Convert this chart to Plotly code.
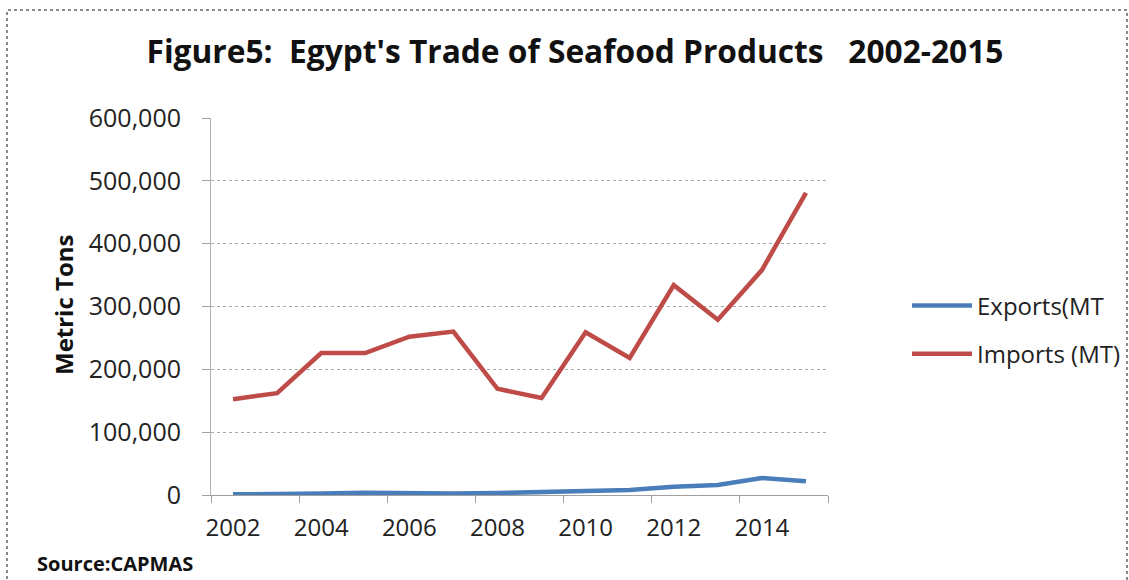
import plotly.graph_objects as go

years = [2002, 2003, 2004, 2005, 2006, 2007, 2008, 2009, 2010, 2011, 2012, 2013, 2014, 2015]
exports_mt = [1000, 1000, 2500, 3500, 2500, 2500, 3000, 5000, 7500, 8000, 13000, 16000, 27000, 22000]
imports_mt = [152500, 162000, 226000, 226000, 252000, 260000, 169000, 154500, 259000, 218000, 334000, 279000, 358000, 481000]
x_tick_years = [2002, 2004, 2006, 2008, 2010, 2012, 2014]
y_ticks = [0, 100000, 200000, 300000, 400000, 500000, 600000]

FONT = "Open Sans"
L, R, T, B = 211, 1129 - 828, 118, 580 - 495
PW, PH = 1129 - L - R, 580 - T - B

def px_x(x):
    return (x - L) / PW

def px_y(y):
    return (580 - B - y) / PH

fig = go.Figure()
fig.add_trace(go.Scatter(x=years, y=exports_mt, mode="lines", name="Exports(MT",
                         line=dict(color="#4a7ebb", width=4.5), legendgroup="a"))
fig.add_trace(go.Scatter(x=years, y=imports_mt, mode="lines", name="Imports (MT)",
                         line=dict(color="#be4b48", width=4.5), legendgroup="b"))

fig.update_layout(
    width=1129, height=580,
    margin=dict(l=L, r=R, t=T, b=B, autoexpand=False),
    paper_bgcolor="white", plot_bgcolor="white",
    font=dict(family=FONT, color="#222222"),
    title=dict(text="<b>Figure5:  Egypt's Trade of Seafood Products   2002-2015</b>",
               x=575 / 1129, xanchor="center", y=1 - 52 / 580, yanchor="middle",
               font=dict(size=31.7, color="#111111", family=FONT)),
    showlegend=True,
    legend=dict(x=px_x(907), y=px_y(330), xanchor="left", yanchor="middle",
                font=dict(size=24, color="#222222", family=FONT),
                tracegroupgap=14, itemwidth=60, bgcolor="rgba(0,0,0,0)"),
    xaxis=dict(range=[2001.5, 2015.5], tickmode="array", tickvals=x_tick_years,
               ticktext=[str(y) for y in x_tick_years],
               showgrid=False, zeroline=False, showline=True, linecolor="#a0a0a0", linewidth=1,
               ticks="", ticklabelstandoff=11, tickfont=dict(size=24, family=FONT, color="#222222"),
               minor=dict(ticks="outside", tick0=2001.5, dtick=2, ticklen=7, tickcolor="#a0a0a0", showgrid=False)),
    yaxis=dict(range=[0, 600000], tickmode="array", tickvals=y_ticks,
               ticktext=[f"{v:,}" for v in y_ticks],
               showgrid=True, gridcolor="#a8a8a8", griddash="dot", gridwidth=1,
               zeroline=False, showline=True, linecolor="#b0b0b0", linewidth=1,
               ticks="outside", ticklen=8, tickcolor="#a0a0a0", ticklabelstandoff=16,
               tickfont=dict(size=25, family=FONT, color="#222222")),
)

fig.add_annotation(text="<b>Metric Tons</b>", xref="paper", yref="paper",
                   x=px_x(63), y=px_y(305), xanchor="center", yanchor="middle", textangle=-90,
                   showarrow=False, font=dict(size=24, family=FONT, color="#111111"))

fig.add_annotation(text="<b>Source:CAPMAS</b>", xref="paper", yref="paper",
                   x=px_x(35), y=px_y(563), xanchor="left", yanchor="middle",
                   showarrow=False, font=dict(size=20, family=FONT, color="#111111"))

# dotted frame
fig.add_shape(type="rect", xref="paper", yref="paper",
              x0=px_x(7), x1=px_x(1127), y0=px_y(600), y1=px_y(10),
              line=dict(color="#8a8a8a", width=2, dash="dot"), fillcolor="rgba(0,0,0,0)")

fig.write_html("out.html")
